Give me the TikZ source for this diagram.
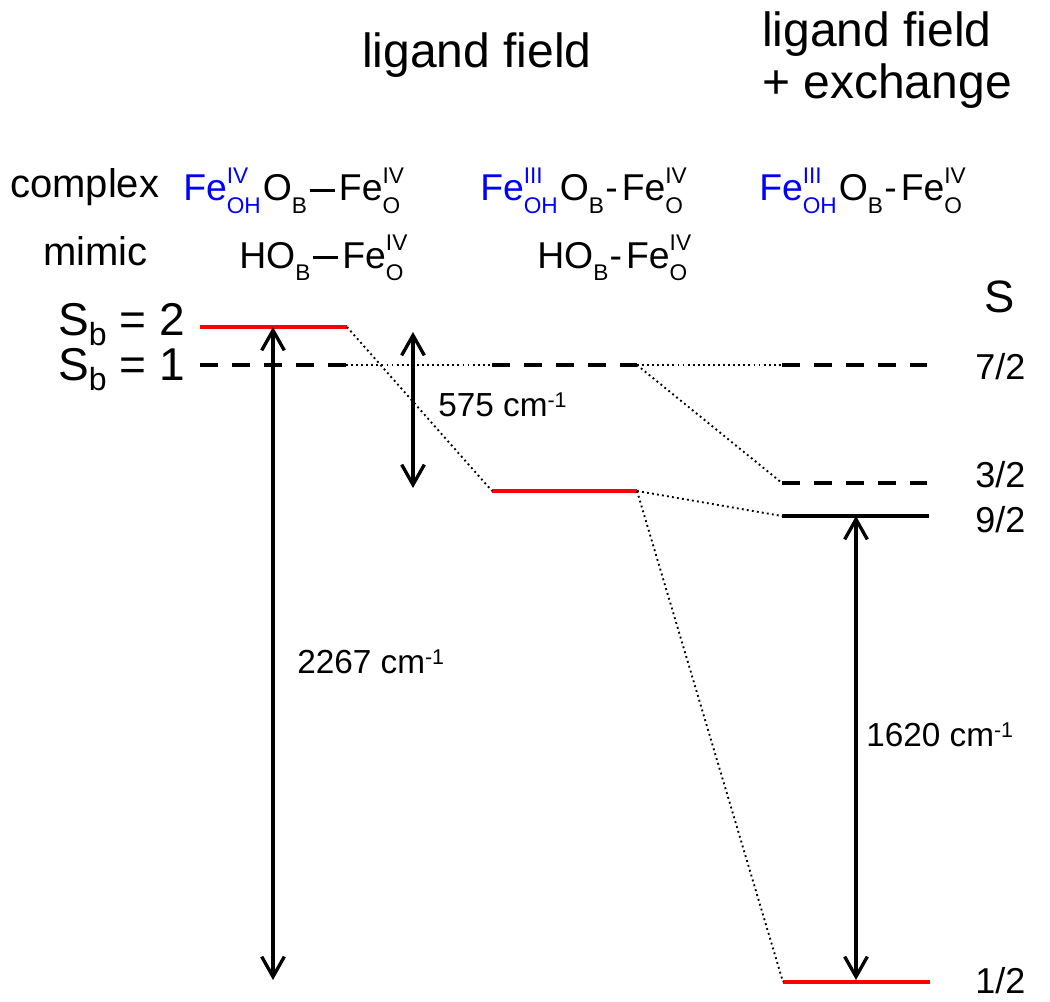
\documentclass[tikz,border=0pt]{standalone}
\usepackage{fontspec}
\setmainfont{Liberation Sans}
\usetikzlibrary{arrows.meta}
\definecolor{lvlred}{RGB}{255,0,0}
\definecolor{fblue}{RGB}{0,0,255}
\newcommand{\ScrF}{\fontsize{17}{17}\selectfont}
\newcommand{\SupSub}[2]{\setbox0=\hbox{\ScrF #1}\setbox2=\hbox{\ScrF #2}%
  \ifdim\wd0>\wd2 \dimen0=\wd0 \else \dimen0=\wd2 \fi
  \hbox to \dimen0{\rlap{\raise 0.47em\box0}\lower 0.33em\box2\hss}\kern1.5pt}
\newcommand{\SubOnly}[1]{\lower 0.33em\hbox{\ScrF #1}\kern1pt}
\newcommand{\LongDash}{\kern1pt\rule[7pt]{19pt}{2.3pt}\kern3pt}
\newcommand{\ShortDash}{-\kern3pt}
\newcommand{\InvCm}{cm\raise 6.5pt\hbox{\fontsize{16}{16}\selectfont -1}}
\begin{document}
\begin{tikzpicture}[x=0.75pt,y=-0.75pt,
  lvl/.style={line width=3pt},
  redlvl/.style={lvl,color=lvlred},
  dashlvl/.style={lvl,dash pattern=on 13.5pt off 10.5pt},
  corr/.style={line width=1.4pt,dash pattern=on 1.4pt off 2.4pt},
  gaparrow/.style={line width=2.5pt,{Straight Barb[length=15pt,width=17pt]}-{Straight Barb[length=15pt,width=17pt]}},
  txt/.style={inner sep=0pt,anchor=base west},
  title/.style={txt,font=\fontsize{36}{43}\selectfont},
  rowlab/.style={txt,font=\fontsize{30}{36}\selectfont},
  formula/.style={txt,font=\fontsize{28}{33}\selectfont},
  spinlab/.style={txt,font=\fontsize{27}{32}\selectfont},
  gaplab/.style={txt,font=\fontsize{25}{30}\selectfont},
]
\useasboundingbox (0,0) rectangle (1050,1002);

% titles
\node[title] (tmid) at (362,68) {ligand field};
\node[title] (tright1) at (762,47) {ligand field};
\node[title] (tright2) at (762,99) {+ exchange};

% row labels
\node[rowlab] (complex) at (10,198) {complex};
\node[rowlab] (mimic) at (43,266) {mimic};

% formulas
\node[formula] (f1) at (183,201) {{\color{fblue}Fe\SupSub{IV}{OH}}O\SubOnly{B}\LongDash Fe\SupSub{IV}{O}};
\node[formula] (m1) at (239,268) {HO\SubOnly{B}\LongDash Fe\SupSub{IV}{O}};
\node[formula] (f2) at (480,201) {{\color{fblue}Fe\SupSub{III}{OH}}O\SubOnly{B}\ShortDash Fe\SupSub{IV}{O}};
\node[formula] (m2) at (537,268) {HO\SubOnly{B}\ShortDash Fe\SupSub{IV}{O}};
\node[formula] (f3) at (759,201) {{\color{fblue}Fe\SupSub{III}{OH}}O\SubOnly{B}\ShortDash Fe\SupSub{IV}{O}};

% Sb labels
\node[inner sep=0pt,anchor=base east,font=\fontsize{34.5}{40}\selectfont] (sb2) at (185,335)
  {S\lower 7.5pt\hbox{\fontsize{24}{24}\selectfont b} = 2};
\node[inner sep=0pt,anchor=base east,font=\fontsize{34.5}{40}\selectfont] (sb1) at (185,380)
  {S\lower 7.5pt\hbox{\fontsize{24}{24}\selectfont b} = 1};
\node[inner sep=0pt,anchor=base,font=\fontsize{34}{40}\selectfont] (Shead) at (1000,312) {S};

% level coordinates
\coordinate (L2a) at (200,327);  \coordinate (L2b) at (347,327);
\coordinate (L1a) at (200,365);  \coordinate (L1b) at (346,365);
\coordinate (Mda) at (492,365);  \coordinate (Mdb) at (637,365);
\coordinate (Mra) at (492,491);  \coordinate (Mrb) at (637,491);
\coordinate (R7a) at (782,365);  \coordinate (R7b) at (927,365);
\coordinate (R3a) at (782,483);  \coordinate (R3b) at (927,483);
\coordinate (R9a) at (782,516);  \coordinate (R9b) at (929,516);
\coordinate (R1a) at (783,982);  \coordinate (R1b) at (930,982);

% levels
\draw[redlvl] (L2a) -- (L2b);
\draw[dashlvl] (L1a) -- (L1b);
\draw[dashlvl] (Mda) -- (Mdb);
\draw[redlvl] (Mra) -- (Mrb);
\draw[dashlvl] (R7a) -- (R7b);
\draw[dashlvl] (R3a) -- (R3b);
\draw[lvl] (R9a) -- (R9b);
\draw[redlvl] (R1a) -- (R1b);

% correlation lines
\draw[corr] (L1b) -- (Mda);
\draw[corr] (L2b) -- (Mra);
\draw[corr] (Mdb) -- (R7a);
\draw[corr] (Mdb) -- (R3a);
\draw[corr] (Mrb) -- (R9a);
\draw[corr] (Mrb) -- (R1a);

% spin labels
\node[spinlab] (s72) at (975,379) {7/2};
\node[spinlab] (s32) at (975,487) {3/2};
\node[spinlab] (s92) at (975,532) {9/2};
\node[spinlab] (s12) at (975,993) {1/2};

% gap arrows
\coordinate (A1t) at (273,327); \coordinate (A1b) at (273,980);
\coordinate (A2t) at (413,332); \coordinate (A2b) at (413,488);
\coordinate (A3t) at (856,516); \coordinate (A3b) at (856,980);
\draw[gaparrow] (A1t) -- (A1b);
\draw[gaparrow] (A2t) -- (A2b);
\draw[gaparrow] (A3t) -- (A3b);

\node[gaplab] (g575) at (438,416) {575 \InvCm};
\node[gaplab] (g2267) at (297,673) {2267 \InvCm};
\node[gaplab] (g1620) at (866,746) {1620 \InvCm};
\end{tikzpicture}
\end{document}
